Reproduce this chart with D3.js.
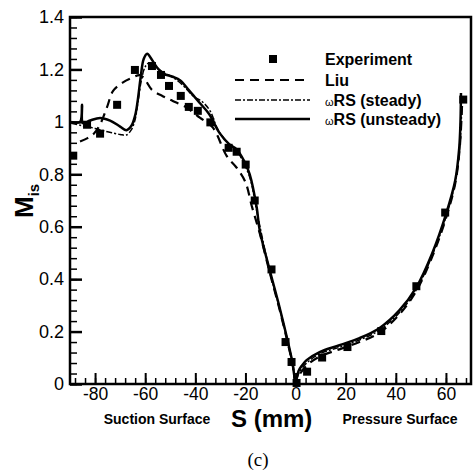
<!DOCTYPE html>
<html>
<head>
<meta charset="utf-8">
<script src="https://cdn.jsdelivr.net/npm/d3@7"></script>
<style>
  body { margin: 0; background: #fff; }
  svg { display: block; font-family: 'Liberation Sans', Arial, sans-serif; }
  .axis path { display: none; }
  .axis line { stroke: #000; }
  .axis text { font-size: 18px; fill: #000; }
</style>
</head>
<body>
<script>
// surface distance S (mm) vs isentropic Mach number
const experiment = [
  [-88.7, 0.871], [-83.2, 0.989], [-78, 0.955], [-71.2, 1.065], [-64.1, 1.198],
  [-57.3, 1.213], [-53.7, 1.179], [-50.5, 1.137], [-45.8, 1.099], [-42.6, 1.057],
  [-39, 1.042], [-34, 0.998], [-26.7, 0.901], [-23.5, 0.886], [-19.9, 0.837],
  [-16.3, 0.7], [-9.6, 0.437], [-4, 0.16], [-1.6, 0.084], [0.4, 0.004],
  [4.6, 0.047], [10.6, 0.101], [20.7, 0.141], [34.2, 0.202], [48.2, 0.373],
  [59.7, 0.654], [66.9, 1.085]
]
const liu = [
  [-86, 0.925], [-83, 0.938], [-80.5, 0.955], [-78, 0.99], [-75.3, 1.054], [-72.8, 1.118],
  [-69, 1.15], [-65.3, 1.168], [-62, 1.178], [-60, 1.16], [-57.3, 1.122], [-53, 1.098],
  [-49, 1.08], [-43.4, 1.054], [-38.2, 1.016], [-33, 0.978], [-27.5, 0.87], [-23.5, 0.825],
  [-20, 0.77], [-17.5, 0.68], [-14.3, 0.575], [-10.3, 0.425], [-6.4, 0.285], [-3.2, 0.16],
  [-1.2, 0.075], [0, 0.01], [1.5, 0.035], [4.4, 0.07], [9.6, 0.105], [17.5, 0.132],
  [25.5, 0.16], [33.4, 0.195], [41.4, 0.265], [48.2, 0.355], [54.5, 0.485], [60.1, 0.635],
  [63.7, 0.765], [65.5, 0.9], [66.5, 1.08]
]
const rsSteady = [
  [-89.5, 0.995], [-85, 0.985], [-80, 0.975], [-75, 0.962], [-70, 0.952], [-67.5, 0.95],
  [-65.5, 0.97], [-64, 1.01], [-62.8, 1.08], [-61.5, 1.16], [-60, 1.21], [-58.5, 1.225],
  [-56, 1.21], [-53, 1.19], [-49, 1.17], [-45, 1.14], [-41, 1.1], [-37, 1.075], [-34, 1.04],
  [-31, 0.97], [-27, 0.92], [-23.5, 0.89], [-20.5, 0.84], [-18, 0.78], [-15.5, 0.66],
  [-10.3, 0.43], [-6.4, 0.29], [-3.2, 0.165], [-1.2, 0.08], [0, 0.01], [1.5, 0.045],
  [4.4, 0.08], [9.6, 0.115], [17.5, 0.14], [25.5, 0.168], [33.4, 0.205], [41.4, 0.272],
  [48.2, 0.36], [54.5, 0.49], [60.1, 0.64], [63.7, 0.77], [65.5, 0.9], [66.3, 1.05]
]
const rsUnsteady = [
  [-89.5, 1.0], [-86, 1.0], [-85.2, 1.065], [-84.8, 0.995], [-82, 1.005], [-78, 1.015],
  [-74, 1.005], [-70, 0.982], [-67.5, 0.968], [-65.5, 0.985], [-64, 1.025], [-63, 1.08],
  [-61.8, 1.17], [-60.6, 1.24], [-59.2, 1.26], [-57.5, 1.24], [-55.5, 1.21], [-53, 1.185],
  [-49, 1.172], [-46, 1.158], [-42.5, 1.12], [-38.5, 1.075], [-34.5, 1.03], [-30.5, 0.96],
  [-26.5, 0.915], [-23.5, 0.895], [-20.5, 0.85], [-18.3, 0.8], [-15.5, 0.673], [-14.3, 0.586],
  [-10.3, 0.434], [-6.4, 0.293], [-3.2, 0.167], [-1.2, 0.08], [0, 0.01], [1.2, 0.05],
  [2.5, 0.07], [4.4, 0.091], [9.6, 0.122], [17.5, 0.148], [25.5, 0.175], [33.4, 0.213],
  [41.4, 0.281], [48.2, 0.369], [54.5, 0.498], [60.1, 0.65], [63.7, 0.776], [65.3, 0.9],
  [65.8, 1.0], [66, 1.11]
]
const xTicks = [-80, -60, -40, -20, 0, 20, 40, 60]
const yTicks = [0, 0.2, 0.4, 0.6, 0.8, 1, 1.2, 1.4]
const xMinor = d3.range(-88, 70, 4)
const yMinor = d3.range(0, 36).map(i => i * 0.04)
const legendNames = ['Experiment', 'Liu', 'RS (steady)', 'RS (unsteady)']

const margin = { top: 17, right: 3, bottom: 88, left: 70 }
const totalW = 474
const totalH = 472
const width = totalW - margin.left - margin.right
const height = totalH - margin.top - margin.bottom

const svg = d3.select('body').append('svg')
    .attr('width', totalW)
    .attr('height', totalH)
const g = svg.append('g')
    .attr('transform', `translate(${margin.left},${margin.top})`)

const x = d3.scaleLinear().domain([-90, 70]).range([0, width])
const y = d3.scaleLinear().domain([0, 1.4]).range([height, 0])

// minor ticks first, then the labelled axes
g.append('g')
    .attr('class', 'axis')
    .attr('transform', `translate(0,${height})`)
    .call(d3.axisBottom(x).tickValues(xMinor).tickSize(-6).tickFormat(''))
    .selectAll('line').attr('stroke-width', 1.5)
g.append('g')
    .attr('class', 'axis')
    .call(d3.axisLeft(y).tickValues(yMinor).tickSize(-7).tickFormat(''))
    .selectAll('line').attr('stroke-width', 1.5)

const xAxis = g.append('g')
    .attr('class', 'axis')
    .attr('transform', `translate(0,${height})`)
    .call(d3.axisBottom(x).tickValues(xTicks).tickSize(-11).tickPadding(4).tickFormat(d => String(d)))
xAxis.selectAll('line').attr('stroke-width', 2)
xAxis.selectAll('text').style('font-size', '17.5px')

const yAxis = g.append('g')
    .attr('class', 'axis')
    .call(d3.axisLeft(y).tickValues(yTicks).tickSize(-12).tickPadding(6).tickFormat(d => String(d)))
yAxis.selectAll('line').attr('stroke-width', 2.5)

// frame
g.append('rect')
    .attr('width', width)
    .attr('height', height)
    .attr('fill', 'none')
    .attr('stroke', '#000')
    .attr('stroke-width', 2.5)

const line = d3.line()
    .x(d => x(d[0]))
    .y(d => y(d[1]))
    .curve(d3.curveCatmullRom.alpha(0.5))

g.append('path')
    .datum(liu)
    .attr('d', line)
    .attr('fill', 'none')
    .attr('stroke', '#000')
    .attr('stroke-width', 2.2)
    .attr('stroke-dasharray', '9,6')
g.append('path')
    .datum(rsSteady)
    .attr('d', line)
    .attr('fill', 'none')
    .attr('stroke', '#000')
    .attr('stroke-width', 1.5)
    .attr('stroke-dasharray', '6,2,2,2')
g.append('path')
    .datum(rsUnsteady)
    .attr('d', line)
    .attr('fill', 'none')
    .attr('stroke', '#000')
    .attr('stroke-width', 2.5)

g.selectAll('rect.pt')
    .data(experiment)
    .enter().append('rect')
    .attr('class', 'pt')
    .attr('x', d => x(d[0]) - 4)
    .attr('y', d => y(d[1]) - 4)
    .attr('width', 8)
    .attr('height', 8)
    .attr('fill', '#000')

// legend
const leg = svg.append('g')
const legY = [59, 80, 100, 119]
leg.append('rect')
    .attr('x', 269).attr('y', legY[0] - 4)
    .attr('width', 8).attr('height', 8)
    .attr('fill', '#000')
const legStyles = [null, { w: 2.2, dash: '9,6' }, { w: 1.5, dash: '6,2,2,2' }, { w: 2.5, dash: null }]
legStyles.forEach((s, i) => {
    if (!s) return
    leg.append('line')
        .attr('x1', 235).attr('x2', 310)
        .attr('y1', legY[i]).attr('y2', legY[i])
        .attr('stroke', '#000')
        .attr('stroke-width', s.w)
        .attr('stroke-dasharray', s.dash)
})
legendNames.forEach((name, i) => {
    const t = leg.append('text')
        .attr('x', 325)
        .attr('y', legY[i] + 5.5)
        .attr('font-size', 16)
        .attr('font-weight', 'bold')
    if (i >= 2) {
        t.append('tspan').attr('font-size', 11).attr('font-weight', 'normal').text('ω')
    }
    t.append('tspan').text(name)
})

// axis titles
const yTitle = svg.append('text')
    .attr('transform', 'translate(33,218) rotate(-90)')
    .attr('font-weight', 'bold')
yTitle.append('tspan').attr('font-size', 26).text('M')
yTitle.append('tspan').attr('font-size', 15).attr('dy', 6).text('is')

svg.append('text')
    .attr('x', 231).attr('y', 427)
    .attr('font-size', 24)
    .attr('font-weight', 'bold')
    .text('S (mm)')
svg.append('text')
    .attr('x', 157).attr('y', 424)
    .attr('text-anchor', 'middle')
    .attr('font-size', 14)
    .attr('font-weight', 'bold')
    .text('Suction Surface')
svg.append('text')
    .attr('x', 400).attr('y', 424)
    .attr('text-anchor', 'middle')
    .attr('font-size', 14)
    .attr('font-weight', 'bold')
    .text('Pressure Surface')
svg.append('text')
    .attr('x', 258).attr('y', 466)
    .attr('text-anchor', 'middle')
    .attr('font-family', "'Liberation Serif', 'Times New Roman', serif")
    .attr('font-size', 19)
    .text('(c)')
</script>
</body>
</html>
